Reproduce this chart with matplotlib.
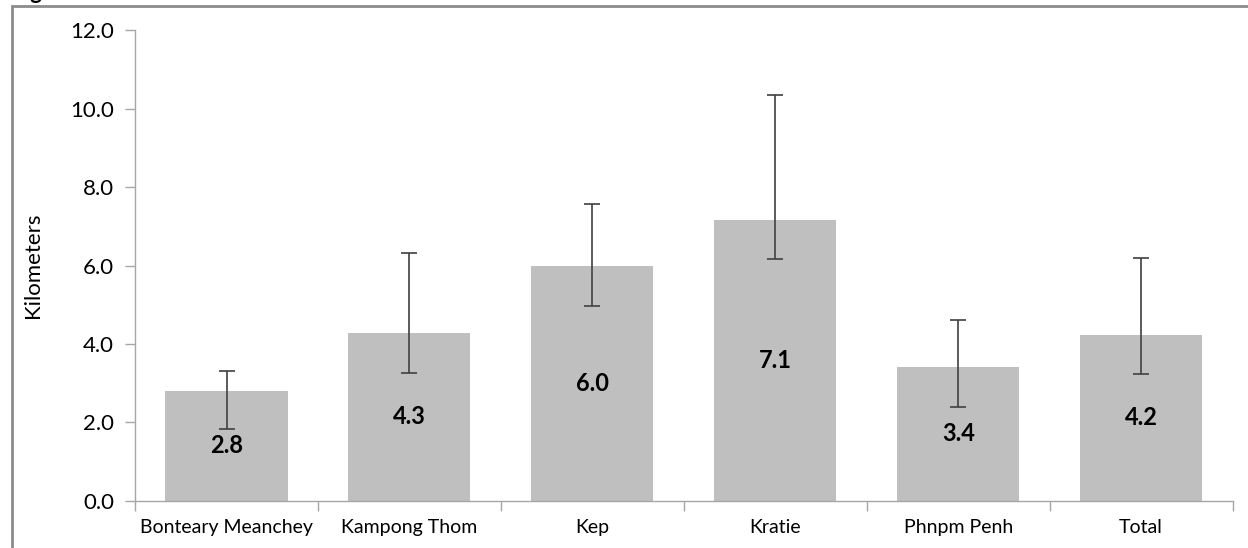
import matplotlib.pyplot as plt
import matplotlib.patches as mpatches
import numpy as np

plt.rcParams['font.family'] = ['Lato', 'DejaVu Sans']

# data
regions = ['Bonteary Meanchey', 'Kampong Thom', 'Kep', 'Kratie', 'Phnpm Penh', 'Total']
mean_km = [2.80, 4.28, 5.99, 7.16, 3.41, 4.24]
upper_km = [3.31, 6.31, 7.56, 10.34, 4.61, 6.20]
lower_km = [1.82, 3.26, 4.97, 6.16, 2.39, 3.23]
bar_labels = ['2.8', '4.3', '6.0', '7.1', '3.4', '4.2']

fig = plt.figure(figsize=(12.48, 5.48), dpi=100)
ax = fig.add_axes([0.1082, 0.0863, 0.8795, 0.8582])

x = np.arange(len(regions))
means = np.array(mean_km)
err = [means - np.array(lower_km), np.array(upper_km) - means]

bars = ax.bar(x, means, width=0.667, color='#BFBFBF', zorder=2)
ax.errorbar(x, means, yerr=err, fmt='none', ecolor='#404040',
            elinewidth=1.2, capsize=5.5, capthick=1.2, zorder=3)
ax.bar_label(bars, labels=bar_labels, label_type='center',
             fontsize=17, fontweight='bold', color='black')

ax.set_xlim(-0.5, len(regions) - 0.5)
ax.set_ylim(0, 12)
ax.set_yticks(np.arange(0, 12.1, 2))
ax.set_yticklabels([f'{v:.1f}' for v in np.arange(0, 12.1, 2)])
ax.set_xticks(x)
ax.set_xticklabels(regions)
ax.set_xticks(np.arange(-0.5, len(regions)), minor=True)

ax.tick_params(axis='y', which='major', length=7, width=1, color='#A6A6A6',
               labelsize=16, pad=8, labelcolor='black')
ax.tick_params(axis='x', which='major', length=0, labelsize=14, pad=13,
               labelcolor='black')
ax.tick_params(axis='x', which='minor', length=7, width=1, color='#A6A6A6')

for side in ['top', 'right']:
    ax.spines[side].set_visible(False)
for side in ['left', 'bottom']:
    ax.spines[side].set_color('#A6A6A6')
    ax.spines[side].set_linewidth(1)

ax.set_ylabel('Kilometers', fontsize=16, labelpad=20)

# outer frame of the chart box (runs off the right and bottom edge)
frame = mpatches.Rectangle((12 / 1248, -0.05), 1.1, 1 - 5.5 / 548 + 0.05,
                           transform=fig.transFigure, fill=False,
                           edgecolor='#8C8C8C', linewidth=2, clip_on=False)
fig.patches.append(frame)

# caption above the box, cut off by the image edge
fig.text(12 / 1248, 1 + 1 / 548, 'Figure', fontsize=16, fontweight='bold',
         va='baseline', ha='left')

fig.savefig('out.png', dpi=100)
